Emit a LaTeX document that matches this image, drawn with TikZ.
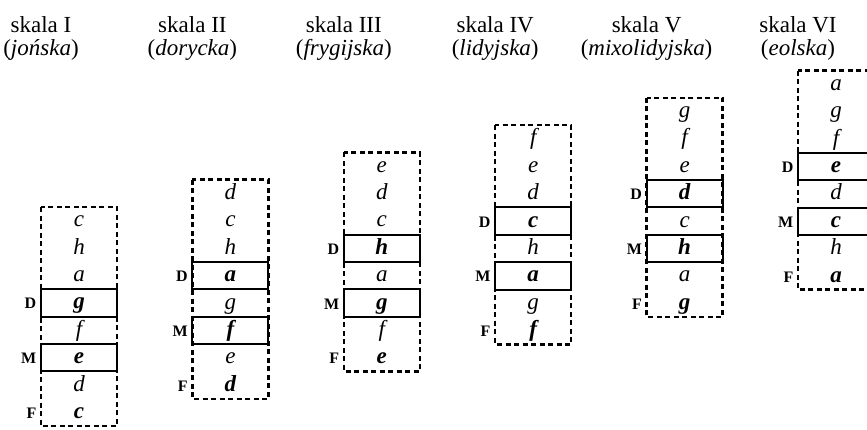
\documentclass[tikz,border=0pt]{standalone}
\usepackage{fontspec}
\setmainfont{Liberation Serif}
\begin{document}
\begin{tikzpicture}[x=1pt,y=-1pt,
  dashbox/.style={draw=black,line width=2.5pt,dash pattern=on 5pt off 3.5pt},
  solidbox/.style={draw=black,line width=2pt},
  note/.style={inner sep=0pt,anchor=base,font=\fontsize{23}{27}\selectfont\itshape},
  boldnote/.style={note,font=\fontsize{23}{27}\selectfont\bfseries\itshape},
  lab/.style={inner sep=0pt,anchor=base east,font=\fontsize{16}{19}\selectfont\bfseries},
  title/.style={inner sep=0pt,anchor=base,font=\fontsize{23}{27}\selectfont}]
\useasboundingbox (0,0) rectangle (867,429);
\def\rh{27.4}
\def\bw{76}
\foreach \k/\num/\mode/\notes in {
  0/I/jońska/{c,h,a,g,f,e,d,c},
  1/II/dorycka/{d,c,h,a,g,f,e,d},
  2/III/frygijska/{e,d,c,h,a,g,f,e},
  3/IV/lidyjska/{f,e,d,c,h,a,g,f},
  4/V/mixolidyjska/{g,f,e,d,c,h,a,g},
  5/VI/eolska/{a,g,f,e,d,c,h,a}}{
  \pgfmathsetmacro\L{41+151.4*\k}
  \pgfmathsetmacro\T{207-27.3*\k}
  \pgfmathsetmacro\C{\L+\bw/2}
  % heading
  \node[title] (t\k) at (\L,32) {skala \num};
  \node[title] (m\k) at (\L,55) {(\textit{\mode})};
  % whole scale (dashed frame)
  \draw[dashbox] (\L,\T) rectangle ++(\bw,{8*\rh});
  % dominant and mediant rows
  \draw[solidbox] (\L,{\T+3*\rh}) rectangle ++(\bw,\rh);
  \draw[solidbox] (\L,{\T+5*\rh}) rectangle ++(\bw,\rh);
  % notes, top to bottom
  \foreach \n [count=\i] in \notes {
    \ifnum\i=4 \def\st{boldnote}\else\ifnum\i=6 \def\st{boldnote}\else\ifnum\i=8 \def\st{boldnote}\else\def\st{note}\fi\fi\fi
    \node[\st] (n\k-\i) at (\C,{\T+(\i-0.5)*\rh+6}) {\n};
  }
  % function letters
  \node[lab] (d\k) at ({\L-4.5},{\T+3.5*\rh+6}) {D};
  \node[lab] (md\k) at ({\L-4.5},{\T+5.5*\rh+6}) {M};
  \node[lab] (f\k) at ({\L-4.5},{\T+7.5*\rh+6}) {F};
}
\end{tikzpicture}
\end{document}
